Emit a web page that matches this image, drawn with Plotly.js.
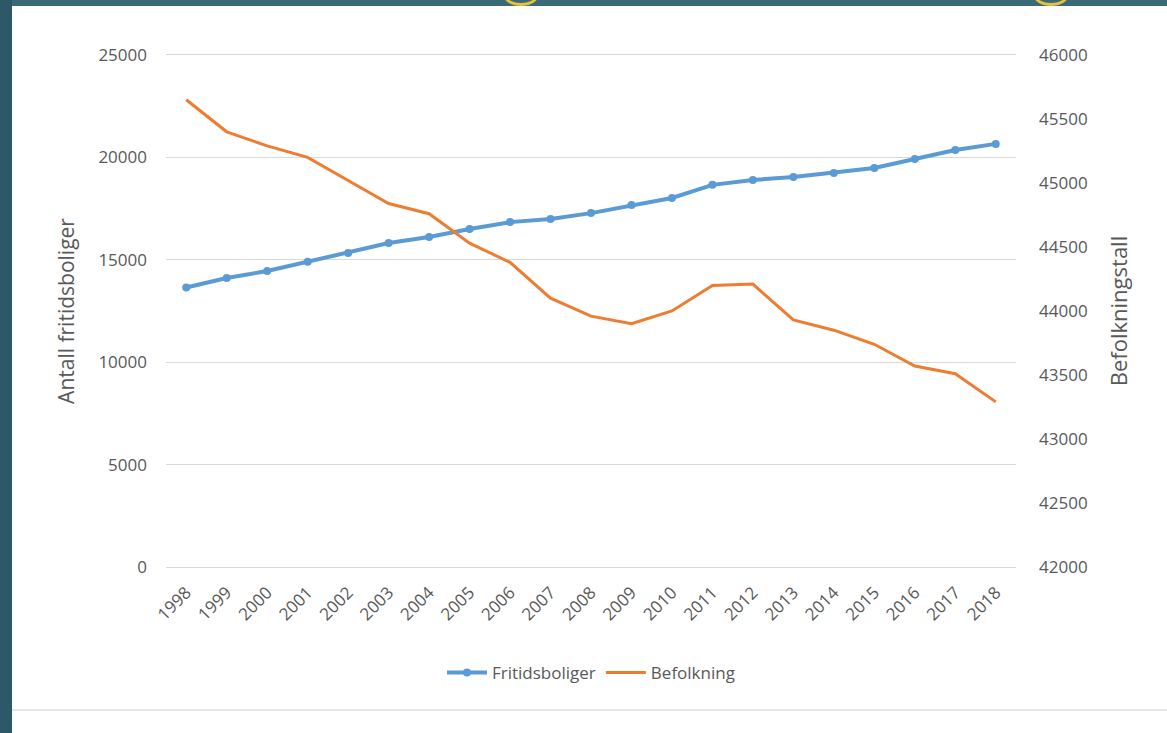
<!DOCTYPE html>
<html>
<head>
<meta charset="utf-8">
<script src="https://cdn.plot.ly/plotly-3.0.1.min.js"></script>
<style>
  html, body { margin: 0; padding: 0; width: 1167px; height: 733px; overflow: hidden; background: #3a6a78; }
  #leftstrip { position: absolute; left: 0; top: 0; width: 12px; height: 733px; background: #2c5868; }
  #card { position: absolute; left: 12px; top: 6px; width: 1155px; height: 703px; background: #ffffff; }
  #chart { position: absolute; left: 0; top: 0; width: 1155px; height: 703px; }
  #lower { position: absolute; left: 12px; top: 711px; width: 1155px; height: 22px; background: #ffffff; }
  #sep { position: absolute; left: 12px; top: 709px; width: 1155px; height: 2px; background: #e3e7ea; }
  .dot { position: absolute; top: -14px; width: 34px; height: 20px; border-radius: 50%; border: 3px solid #e8c13a; box-sizing: border-box; }
</style>
</head>
<body>
<div id="leftstrip"></div>
<div class="dot" style="left:504px"></div>
<div class="dot" style="left:1034px"></div>
<div id="card"><div id="chart"></div></div>
<div id="sep"></div>
<div id="lower"></div>
<script>
const years = ["1998","1999","2000","2001","2002","2003","2004","2005","2006","2007","2008","2009","2010","2011","2012","2013","2014","2015","2016","2017","2018"];
const fritidsboliger = [13650,14110,14450,14900,15330,15820,16110,16500,16840,16990,17280,17670,18020,18660,18900,19040,19240,19480,19920,20360,20660];
const befolkning = [45650,45400,45290,45200,45020,44840,44760,44530,44380,44100,43960,43900,44000,44200,44210,43930,43850,43740,43570,43510,43290];
const leftTicks = [0,5000,10000,15000,20000,25000];
const rightTicks = [42000,42500,43000,43500,44000,44500,45000,45500,46000];

const fontFam = "'Open Sans', 'Noto Sans', sans-serif";
const grey = "#595959";

const traces = [
  {
    x: years, y: fritidsboliger, name: "Fritidsboliger", type: "scatter", mode: "lines+markers",
    line: { color: "#5b9bd5", width: 4 },
    marker: { color: "#5b9bd5", size: 8, symbol: "circle" },
    yaxis: "y"
  },
  {
    x: years, y: befolkning, name: "Befolkning", type: "scatter", mode: "lines",
    line: { color: "#ed7d31", width: 3 },
    yaxis: "y2"
  }
];

const layout = {
  width: 1155, height: 703,
  paper_bgcolor: "#ffffff", plot_bgcolor: "#ffffff",
  margin: { l: 154, r: 151, t: 49, b: 142 },
  font: { family: fontFam, color: grey, size: 16 },
  showlegend: true,
  legend: {
    orientation: "h", x: 0.5, xanchor: "center", y: -0.207, yanchor: "middle",
    font: { family: fontFam, size: 17, color: grey }, itemwidth: 40, traceorder: "normal"
  },
  xaxis: {
    type: "category", range: [-0.5, 20.5], tickangle: -45,
    showgrid: false, zeroline: false, showline: true, mirror: true,
    linecolor: "#d9d9d9", linewidth: 1, ticks: "", ticklabelstandoff: 8,
    tickfont: { family: fontFam, size: 17, color: grey },
    fixedrange: true
  },
  yaxis: {
    range: [0, 25000], tickvals: leftTicks, ticktext: leftTicks.map(String),
    showgrid: true, gridcolor: "#d9d9d9", gridwidth: 1, zeroline: false, showline: false,
    ticks: "", ticklabelstandoff: 18,
    tickfont: { family: fontFam, size: 17, color: grey },
    title: { text: "Antall fritidsboliger", font: { family: fontFam, size: 21, color: grey }, standoff: 18 }
  },
  yaxis2: {
    range: [42000, 46000], tickvals: rightTicks, ticktext: rightTicks.map(String),
    overlaying: "y", side: "right", showgrid: false, zeroline: false, showline: false,
    ticks: "", ticklabelstandoff: 22,
    tickfont: { family: fontFam, size: 17, color: grey },
    title: { text: "Befolkningstall", font: { family: fontFam, size: 22, color: grey }, standoff: 24 }
  }
};

Plotly.newPlot("chart", traces, layout, { displayModeBar: false, staticPlot: true });
</script>
</body>
</html>
